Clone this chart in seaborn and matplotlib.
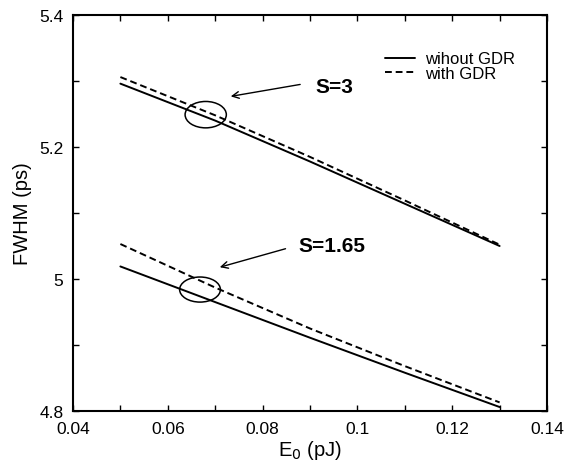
import matplotlib
matplotlib.use("Agg")
import matplotlib.pyplot as plt
import seaborn as sns
import pandas as pd
from matplotlib.patches import Ellipse
from matplotlib.ticker import MultipleLocator, FormatStrFormatter

sns.set_theme(style="white")
plt.rcParams['font.family'] = ['Liberation Sans', 'DejaVu Sans']
plt.rcParams.update({'text.color': 'black', 'axes.labelcolor': 'black',
                     'xtick.color': 'black', 'ytick.color': 'black'})

# data
E0 = [0.05, 0.07, 0.09, 0.11, 0.13]
s3_without = [5.296, 5.240, 5.178, 5.114, 5.050]
s3_with = [5.306, 5.248, 5.185, 5.119, 5.052]
s165_without = [5.019, 4.965, 4.911, 4.858, 4.806]
s165_with = [5.053, 4.987, 4.925, 4.868, 4.813]
x_ticks = [0.04, 0.06, 0.08, 0.1, 0.12, 0.14]
y_ticks = [4.8, 5.0, 5.2, 5.4]

fig = plt.figure(figsize=(5.64, 4.64), dpi=100)
ax = fig.add_axes([0.1294, 0.1121, 0.8405, 0.8534])

curves = [
    (s3_without, "wihout GDR", "-"),
    (s3_with, "with GDR", (0, (3.5, 2))),
    (s165_without, None, "-"),
    (s165_with, None, (0, (3.5, 2))),
]
handles = []
for yv, lab, ls in curves:
    df = pd.DataFrame({"E0": E0, "FWHM": yv})
    sns.lineplot(data=df, x="E0", y="FWHM", ax=ax, color="black", lw=1.4,
                 linestyle=ls, estimator=None, legend=False)
    if lab:
        handles.append((ax.lines[-1], lab))

ax.set_xlim(0.04, 0.14)
ax.set_ylim(4.8, 5.4)
ax.xaxis.set_major_locator(MultipleLocator(0.02))
ax.xaxis.set_minor_locator(MultipleLocator(0.01))
ax.yaxis.set_major_locator(MultipleLocator(0.2))
ax.yaxis.set_minor_locator(MultipleLocator(0.1))
ax.xaxis.set_major_formatter(FormatStrFormatter('%g'))
ax.yaxis.set_major_formatter(FormatStrFormatter('%g'))
ax.tick_params(which='both', direction='in', top=True, right=True,
               bottom=True, left=True, length=4, width=1, color='black',
               labelsize=12.5, pad=7)
for sp in ax.spines.values():
    sp.set_color('black')
    sp.set_linewidth(1.5)

ax.set_xlabel("E$_0$ (pJ)", fontsize=14.5, labelpad=2)
ax.set_ylabel("FWHM (ps)", fontsize=14.5, labelpad=5)

# ellipses
ax.add_patch(Ellipse((0.068, 5.249), 0.0087, 0.040, fill=False, ec='black', lw=1.1))
ax.add_patch(Ellipse((0.0668, 4.984), 0.0086, 0.038, fill=False, ec='black', lw=1.1))

# annotations
ax.annotate("", xy=(0.0727, 5.276), xytext=(0.0885, 5.2955),
            arrowprops=dict(arrowstyle='->', color='black', lw=1.0))
ax.text(0.0911, 5.292, "S=3", fontsize=15, fontweight='bold', va='center', ha='left')
ax.annotate("", xy=(0.0704, 5.0167), xytext=(0.0854, 5.047),
            arrowprops=dict(arrowstyle='->', color='black', lw=1.0))
ax.text(0.0875, 5.05, "S=1.65", fontsize=15, fontweight='bold', va='center', ha='left')

ax.legend([h for h, _ in handles], [l for _, l in handles], loc='upper left',
          bbox_to_anchor=(0.658, 0.908), frameon=False, fontsize=12,
          handlelength=1.8, handletextpad=0.6, labelspacing=-0.05, borderpad=0,
          borderaxespad=0)

fig.savefig("out.png", dpi=100)
